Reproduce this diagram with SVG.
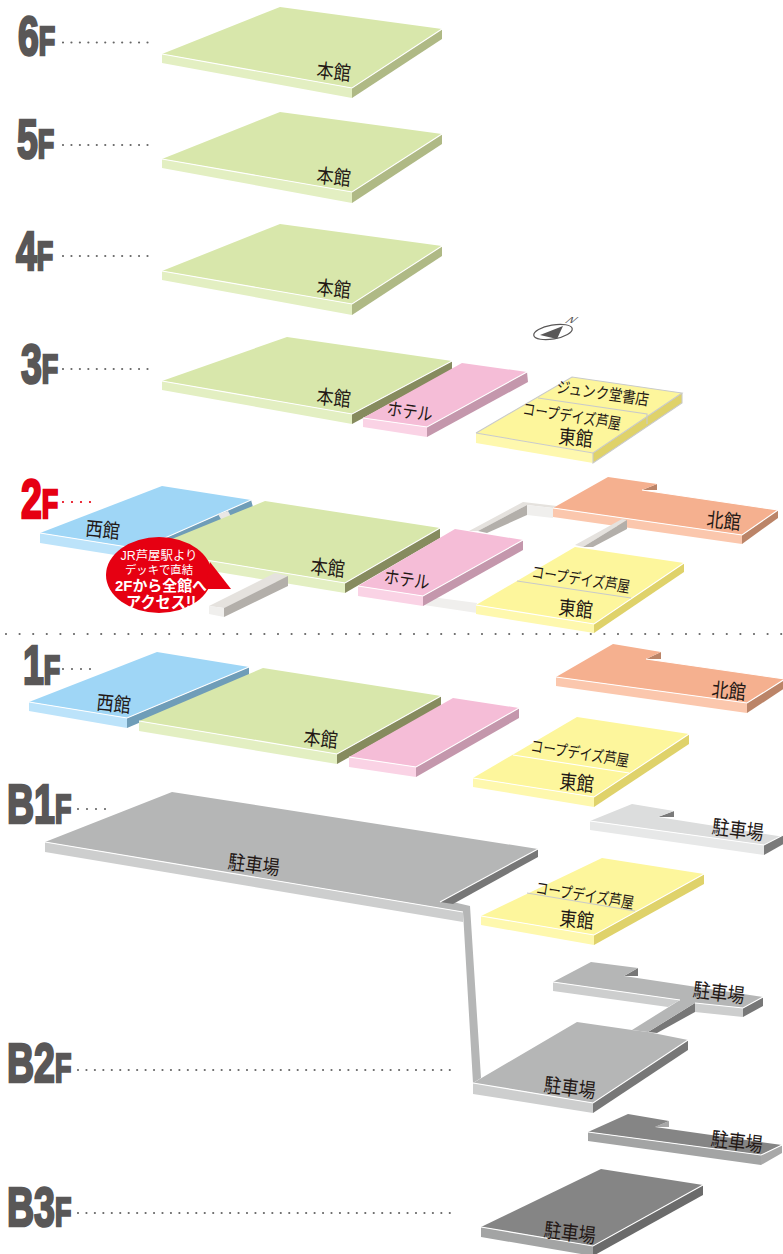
<svg xmlns="http://www.w3.org/2000/svg" width="783" height="1254" viewBox="0 0 783 1254">
<style>
text{font-family:"Noto Sans CJK JP","Liberation Sans",sans-serif}
.l{fill:#231815;font-size:20px;text-anchor:middle}
.s{font-size:16px}.h{font-size:18px}
.big{font-family:"Liberation Sans",sans-serif;font-weight:700;font-size:56px;fill:#595757;stroke:#595757;stroke-width:2.6}
.big tspan{font-size:40px}
.red{fill:#e60012;stroke:#e60012}
.dots{fill:none;stroke:#666;stroke-width:2.2;stroke-linecap:round}
.e{fill:none;stroke:#fff;stroke-width:1.1}
.ge{fill:none;stroke:#c9caca;stroke-width:1.1}
.gt{fill:#d8e7ab}.gf{fill:#e3efc2}.gs{fill:#afb985}.gd{fill:#868b5e}
.pt{fill:#f5bdd7}.pf{fill:#fad3e5}.ps{fill:#c497ac}
.yt{fill:#fdf69c}.yf{fill:#fef8ae}.ys{fill:#dfd26a}
.bt{fill:#9fd6f6}.bf{fill:#bce3fa}.bs{fill:#6f9db8}
.ot{fill:#f5b08f}.of{fill:#fbc7ad}.os{fill:#bb8468}
.kt{fill:#b5b6b6}.kf{fill:#cdcece}.ks{fill:#777}
.lt{fill:#dcdddd}.lf{fill:#e7e8e8}.ls{fill:#7a7a7a}
.dt{fill:#858585}.df{fill:#a3a4a4}.ds{fill:#a8a8a8}.dx{fill:#6b6b6b}
.wt{fill:#e5e2de}.wf{fill:#f0efed}.ws{fill:#b3afaa}
.bw{fill:#fff;text-anchor:middle;font-family:"Liberation Sans","Noto Sans CJK JP",sans-serif}
</style>

<g id="connectors">
<path class="dots" stroke-dasharray="0 8.45" d="M63 42.5H150M63 145H150M63 256H150M63 369H150M78 1070H454M78 1213H454"/>
<path class="dots" stroke-dasharray="0 9" d="M63 669H92M78 809H107"/>
<path class="dots" style="stroke:#e60012" stroke-dasharray="0 9" d="M63 502H92"/>
</g>

<g id="labels-floor">
<text class="big" transform="translate(18,55) scale(.67,1)">6<tspan>F</tspan></text>
<text class="big" transform="translate(17,158) scale(.67,1)">5<tspan>F</tspan></text>
<text class="big" transform="translate(16,270) scale(.67,1)">4<tspan>F</tspan></text>
<text class="big" transform="translate(21,383) scale(.67,1)">3<tspan>F</tspan></text>
<text class="big red" transform="translate(21,518) scale(.67,1)">2<tspan>F</tspan></text>
<text class="big" transform="translate(23,684) scale(.67,1)">1<tspan>F</tspan></text>
<text class="big" transform="translate(7,823) scale(.67,1)">B1<tspan>F</tspan></text>
<text class="big" transform="translate(7,1082) scale(.67,1)">B2<tspan>F</tspan></text>
<text class="big" transform="translate(7,1226) scale(.67,1)">B3<tspan>F</tspan></text>
</g>

<g id="f6-main">
<polygon class="gt" points="280,7 442,29 352,88 162,54"/><polygon class="gf" points="162,54 352,88 352,98 162,63"/><polygon class="gs" points="352,88 442,29 442,39 352,98"/>
<polyline class="e" points="162,54 352,88 442,29"/><text class="l" textLength="34" lengthAdjust="spacingAndGlyphs" transform="translate(333,79) rotate(6)">本館</text>
</g>
<g id="f5-main">
<polygon class="gt" points="280,112 442,134 352,192 162,159"/><polygon class="gf" points="162,159 352,192 352,203 162,168"/><polygon class="gs" points="352,192 442,134 442,144 352,203"/>
<polyline class="e" points="162,159 352,192 442,134"/><text class="l" textLength="34" lengthAdjust="spacingAndGlyphs" transform="translate(333,184) rotate(6)">本館</text>
</g>
<g id="f4-main">
<polygon class="gt" points="280,224 442,246 352,304 162,271"/><polygon class="gf" points="162,271 352,304 352,315 162,280"/><polygon class="gs" points="352,304 442,246 442,256 352,315"/>
<polyline class="e" points="162,271 352,304 442,246"/><text class="l" textLength="34" lengthAdjust="spacingAndGlyphs" transform="translate(333,296) rotate(6)">本館</text>
</g>
<g id="f3-main">
<polygon class="gt" points="287,337 452,361 352,414 162,381"/><polygon class="gf" points="162,381 352,414 352,424 162,390"/><polygon class="gd" points="352,414 452,361 452,370 352,424"/>
<polyline class="e" points="162,381 352,414 452,361"/><text class="l" textLength="34" lengthAdjust="spacingAndGlyphs" transform="translate(333,405) rotate(6)">本館</text>
</g>
<g id="f3-hotel">
<polygon class="pt" points="462,363 527,372 427,427 363,418"/><polygon class="pf" points="363,418 427,427 427,437 363,427"/><polygon class="ps" points="427,427 527,372 528,382 427,437"/>
<polyline class="e" points="363,418 427,427 527,372"/><text class="l h" textLength="46" lengthAdjust="spacingAndGlyphs" transform="translate(409,418) rotate(8)">ホテル</text>
</g>
<g id="f3-east">
<polygon class="yt" points="572,377 682,393 593,453 476,433"/><polygon class="yf" points="476,433 593,453 593,463 476,443"/><polygon class="ys" points="593,453 682,393 682,403 593,463"/>
<polyline class="ge" points="476,433 593,453 682,393 572,377 476,433"/><polyline class="ge" points="593,453 593,463 682,403 682,393"/><polyline class="ge" points="538,398 647,414 647,424"/>
<text class="l s" textLength="93" lengthAdjust="spacingAndGlyphs" transform="translate(602,399) rotate(8)">ジュンク堂書店</text>
<text class="l s" textLength="99" lengthAdjust="spacingAndGlyphs" transform="translate(571,422) rotate(9)">コープデイズ芦屋</text>
<text class="l" textLength="34" lengthAdjust="spacingAndGlyphs" transform="translate(575,445) rotate(6)">東館</text>
</g>
<g id="compass">
<ellipse cx="553" cy="332" rx="19.5" ry="7" transform="rotate(-10 553 332)" fill="#fff" stroke="#595757" stroke-width="1.2"/>
<polygon points="540,335 563,326 557,339" fill="#595757"/>
<text transform="translate(564,323) matrix(1.2,0,-1,.87,0,0)" style="font-family:'Liberation Sans',sans-serif;font-size:10px" fill="#595757">N</text>
</g>

<g id="f2-west">
<polygon class="bt" points="162,486 251,500 140,549 40,533"/><polygon class="bf" points="40,533 140,549 140,559 40,543"/><polygon class="bs" points="140,549 251,500 253,507 140,559"/>
<polyline class="e" points="40,533 140,549 251,500"/>
<polygon fill="#e9e7e4" points="218,514 228,511 232,518 222,521"/>
<text class="l" textLength="34" lengthAdjust="spacingAndGlyphs" transform="translate(102,537) rotate(6)">西館</text>
</g>
<g id="f2-bridges">
<polygon class="wt" points="469,531 523,502 557,506 553,508 527,505 478,531"/>
<polygon class="ws" points="527,505 527,515 487,533 478,531"/>
<polygon class="wf" points="527,505 553,508 553,518 527,515"/>
<polygon class="wf" points="424,596 477,603 477,613 424,605"/>
</g>
<g id="f2-main">
<polygon class="gt" points="265,501 440,528 345,583 145,550"/><polygon class="gf" points="145,550 345,583 345,593 145,560"/><polygon class="gd" points="345,583 440,528 440,538 345,593"/>
<polyline class="e" points="145,550 345,583 440,528"/>
<text class="l" textLength="34" lengthAdjust="spacingAndGlyphs" transform="translate(327,575) rotate(6)">本館</text>
</g>
<g id="f2-deck">
<polygon class="wt" points="209,606 224,608 288,576 275,573"/><polygon class="wf" points="209,606 224,608 224,617 209,614"/><polygon class="ws" points="224,608 288,576 288,586 224,617"/>
</g>
<g id="f2-hotel">
<polygon class="pt" points="455,529 523,540 423,596 358,586"/><polygon class="pf" points="358,586 423,596 423,606 358,596"/><polygon class="ps" points="423,596 523,540 523,550 423,606"/>
<polyline class="e" points="358,586 423,596 523,540"/><text class="l h" textLength="46" lengthAdjust="spacingAndGlyphs" transform="translate(406,586) rotate(8)">ホテル</text>
</g>
<g id="f2-north">
<polygon class="os" points="657,484 657,490 642,490"/>
<polygon class="ot" points="608,477 657,484 642,490 778,510 742,535 553,508"/><polygon class="of" points="553,508 742,535 742,544 553,517"/><polygon class="os" points="742,535 778,510 778,518 742,544"/>
<polyline class="e" points="553,508 742,535 778,510 642,490"/>
<text class="l" textLength="34" lengthAdjust="spacingAndGlyphs" transform="translate(723,528) rotate(6)">北館</text>
</g>
<g id="f2-bridge-north">
<polygon class="wt" points="575,545 622,519 627,520 583,547"/>
<polygon class="ws" points="627,520 627,529 593,547 583,547"/>
</g>
<g id="f2-east">
<polygon class="yt" points="575,547 684,563 594,624 476,605"/><polygon class="yf" points="476,605 594,624 594,633 476,614"/><polygon class="ys" points="594,624 684,563 684,572 594,633"/>
<polyline class="e" points="476,605 594,624 684,563"/><line class="ge" x1="517" y1="581" x2="631" y2="598"/>
<text class="l s" textLength="99" lengthAdjust="spacingAndGlyphs" transform="translate(580,585) rotate(9)">コープデイズ芦屋</text>
<text class="l" textLength="34" lengthAdjust="spacingAndGlyphs" transform="translate(575,616) rotate(6)">東館</text>
</g>
<g id="callout">
<ellipse cx="159" cy="575" rx="53" ry="38" fill="#e60012"/>
<polygon points="210,562 231,589 205,589" fill="#e60012"/>
<text class="bw" x="159" y="560" font-size="12" textLength="77" lengthAdjust="spacingAndGlyphs">JR芦屋駅より</text>
<text class="bw" x="159" y="574" font-size="11.5" textLength="68" lengthAdjust="spacingAndGlyphs">デッキで直結</text>
<text class="bw" x="161" y="591" font-size="15" font-weight="700" textLength="92" lengthAdjust="spacingAndGlyphs">2Fから全館へ</text>
<text class="bw" x="161" y="608" font-size="16" font-weight="700" textLength="70" lengthAdjust="spacingAndGlyphs">アクセス!!</text>
</g>

<path id="divider" class="dots" stroke-dasharray="0 13.6" d="M6 634H783"/>

<g id="f1-west">
<polygon class="bt" points="157,652 249,667 127,718 29,702"/><polygon class="bf" points="29,702 127,718 127,728 29,711"/><polygon class="bs" points="127,718 249,667 249,676 127,728"/>
<polyline class="e" points="29,702 127,718 249,667"/><text class="l" textLength="34" lengthAdjust="spacingAndGlyphs" transform="translate(113,711) rotate(6)">西館</text>
</g>
<g id="f1-main">
<polygon class="gt" points="263,668 441,696 337,754 139,721"/><polygon class="gf" points="139,721 337,754 337,764 139,731"/><polygon class="gd" points="337,754 441,696 441,706 337,764"/>
<polyline class="e" points="139,721 337,754 441,696"/><text class="l" textLength="34" lengthAdjust="spacingAndGlyphs" transform="translate(320,746) rotate(6)">本館</text>
</g>
<g id="f1-hotel">
<polygon class="pt" points="453,698 519,708 416,767 349,757"/><polygon class="pf" points="349,757 416,767 416,777 349,767"/><polygon class="ps" points="416,767 519,708 519,718 416,777"/>
<polyline class="e" points="349,757 416,767 519,708"/>
</g>
<g id="f1-north">
<polygon class="os" points="661,652 661,659 646,659"/>
<polygon class="ot" points="613,644 661,652 646,659 785,679 747,703 556,677"/><polygon class="of" points="556,677 747,703 747,713 556,686"/><polygon class="os" points="747,703 785,679 785,688 747,713"/>
<polyline class="e" points="556,677 747,703 785,679 646,659"/>
<text class="l" textLength="34" lengthAdjust="spacingAndGlyphs" transform="translate(728,698) rotate(6)">北館</text>
</g>
<g id="f1-east">
<polygon class="yt" points="577,717 689,734 594,797 473,778"/><polygon class="yf" points="473,778 594,797 594,807 473,787"/><polygon class="ys" points="594,797 689,734 689,744 594,807"/>
<polyline class="e" points="473,778 594,797 689,734"/><line class="e" x1="513" y1="755" x2="629" y2="773"/>
<text class="l s" textLength="99" lengthAdjust="spacingAndGlyphs" transform="translate(579,759) rotate(9)">コープデイズ芦屋</text>
<text class="l" textLength="34" lengthAdjust="spacingAndGlyphs" transform="translate(576,790) rotate(6)">東館</text>
</g>
<g id="b1-parking-north">
<polygon class="ls" points="674,811 674,817 658,817"/>
<polygon class="lt" points="632,804 674,811 658,817 785,837 764,845 590,821"/><polygon class="lf" points="590,821 764,845 764,855 590,830"/><polygon class="ls" points="764,845 785,834 785,843 764,855"/>
<polyline class="e" points="590,821 764,845 785,834"/>
<text class="l" textLength="52" lengthAdjust="spacingAndGlyphs" transform="translate(737,837) rotate(7)">駐車場</text>
</g>
<g id="b1-parking">
<polygon class="kt" points="172,792 538,849 453,902 470,906 481,1078 473,1083 463,912 45,842"/>
<polygon class="kf" points="45,842 463,912 463,922 45,852"/>
<polygon class="ks" points="538,849 538,857 453,904 440,902"/>
<polyline class="e" points="45,842 463,912"/>
<polyline class="e" points="440,902 538,849"/>
<text class="l" textLength="52" lengthAdjust="spacingAndGlyphs" transform="translate(253,872) rotate(7)">駐車場</text>
</g>
<g id="b1-east">
<polygon class="yt" points="602,858 704,874 594,935 481,916"/><polygon class="yf" points="481,916 594,935 594,945 481,925"/><polygon class="ys" points="594,935 704,874 704,884 594,945"/>
<polyline class="e" points="481,916 594,935 704,874"/><line class="ge" x1="527" y1="893" x2="635" y2="911"/>
<text class="l s" textLength="99" lengthAdjust="spacingAndGlyphs" transform="translate(584,901) rotate(9)">コープデイズ芦屋</text>
<text class="l" textLength="34" lengthAdjust="spacingAndGlyphs" transform="translate(576,927) rotate(6)">東館</text>
</g>
<g id="b2-parking-north">
<polygon class="ks" points="638,968 638,976 624,976"/>
<polygon class="ks" points="695,1003 695,1012 657,1033 648,1032"/>
<polygon class="kf" points="553,982 680,1000 668,1007 553,991"/>
<polygon class="kf" points="695,1003 743,1008 743,1017 695,1012"/>
<polygon class="ks" points="743,1008 763,997 763,1006 743,1017"/>
<polygon class="kt" points="591,962 638,968 624,976 763,997 743,1008 695,1003 648,1032 632,1030 680,1000 553,982"/>
<polyline class="e" points="553,982 680,1000"/><polyline class="e" points="695,1003 743,1008 763,997"/>
<text class="l" textLength="52" lengthAdjust="spacingAndGlyphs" transform="translate(718,1000) rotate(7)">駐車場</text>
</g>
<g id="b2-parking">
<polygon class="kt" points="577,1022 632,1030 648,1032 688,1040 593,1103 473,1083"/><polygon class="kf" points="473,1083 593,1103 593,1113 473,1094"/><polygon class="ks" points="593,1103 688,1040 688,1050 593,1113"/>
<polyline class="e" points="473,1083 593,1103 688,1040"/><text class="l" textLength="52" lengthAdjust="spacingAndGlyphs" transform="translate(569,1095) rotate(7)">駐車場</text>
</g>
<g id="b3-parking-north">
<polygon class="ds" points="669,1121 669,1127 655,1127"/>
<polygon class="dt" points="628,1114 669,1121 655,1127 782,1145 761,1155 588,1132"/><polygon class="df" points="588,1132 761,1155 761,1165 588,1141"/><polygon class="ds" points="761,1155 782,1145 782,1153 761,1165"/>
<polyline class="e" points="588,1132 761,1155 782,1145"/><text class="l" textLength="52" lengthAdjust="spacingAndGlyphs" transform="translate(736,1149) rotate(7)">駐車場</text>
</g>
<g id="b3-parking">
<polygon class="dt" points="601,1169 703,1185 593,1246 481,1227"/><polygon class="df" points="481,1227 593,1246 593,1256 481,1237"/><polygon class="dx" points="593,1246 703,1185 703,1195 593,1256"/>
<polyline class="e" points="481,1227 593,1246 703,1185"/><text class="l" textLength="52" lengthAdjust="spacingAndGlyphs" transform="translate(569,1240) rotate(7)">駐車場</text>
</g>
</svg>
